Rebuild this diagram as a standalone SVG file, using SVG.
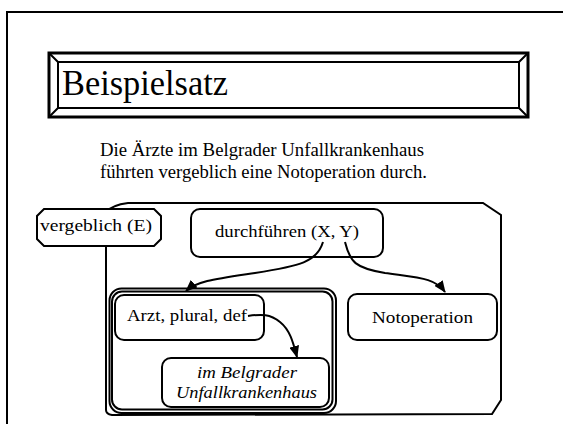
<svg xmlns="http://www.w3.org/2000/svg" width="563" height="424" viewBox="0 0 563 424">
<style>
  text { font-family: "Liberation Serif", "Times New Roman", serif; fill: #000; }
  .box { fill: #fff; stroke: #000; stroke-width: 2; }
  .ln { fill: none; stroke: #000; stroke-width: 2; }
  .arr { fill: none; stroke: #000; stroke-width: 2; marker-end: url(#ah); }
  .lbl { font-size: 17.5px; }
</style>
<defs>
  <marker id="ah" markerUnits="userSpaceOnUse" markerWidth="12" markerHeight="10" refX="11" refY="5" orient="auto">
    <path d="M0,0 L12,5 L0,10 Z" fill="#000"/>
  </marker>
</defs>
<rect width="563" height="424" fill="#fff"/>
<!-- slide frame -->
<path class="ln" d="M7,424 L7,12 L563,12"/>
<!-- title -->
<g id="title">
  <rect x="49" y="53" width="479" height="64" fill="none" stroke="#000" stroke-width="3"/>
  <rect x="58" y="62" width="461" height="46" fill="none" stroke="#000" stroke-width="2"/>
  <path class="ln" d="M49,53 L58,62 M528,53 L519,62 M49,117 L58,108 M528,117 L519,108"/>
  <text x="62" y="95" font-size="35" textLength="166" lengthAdjust="spacingAndGlyphs">Beispielsatz</text>
</g>
<g id="sentence">
  <text x="100" y="156" font-size="18" textLength="324" lengthAdjust="spacingAndGlyphs">Die Ärzte im Belgrader Unfallkrankenhaus</text>
  <text x="100" y="178" font-size="18" textLength="327" lengthAdjust="spacingAndGlyphs">führten vergeblich eine Notoperation durch.</text>
</g>
<!-- container -->
<g id="container">
  <path class="ln" d="M106,410 L106,212 Q112,205 128,203 L483,203 L501,215 L501,400 L492,414 L112,415 Q106,414 106,410 Z"/>
</g>
<g id="group">
  <rect x="109.5" y="288.5" width="226.5" height="124.5" rx="12" class="box"/>
  <rect x="112" y="291.5" width="220.5" height="118" rx="10" class="ln"/>
</g>
<g id="vergeblich">
  <path class="box" d="M44,209 L154,209 L161,216 L161,239 L154,246 L44,246 L37,239 L37,216 Z"/>
  <text class="lbl" x="40" y="231" textLength="112" lengthAdjust="spacingAndGlyphs">vergeblich (E)</text>
</g>
<g id="durchfuehren">
  <rect x="191" y="209" width="192" height="48" rx="9" class="box"/>
  <text class="lbl" x="215" y="237" textLength="144" lengthAdjust="spacingAndGlyphs">durchführen (X, Y)</text>
</g>
<g id="arzt">
  <rect x="115" y="295" width="149" height="45" rx="9" class="box"/>
  <text class="lbl" x="127" y="321" textLength="120" lengthAdjust="spacingAndGlyphs">Arzt, plural, def</text>
</g>
<g id="belgrader">
  <rect x="162" y="358" width="167" height="49" rx="9" class="box"/>
  <text class="lbl" x="197" y="378" font-style="italic" textLength="100" lengthAdjust="spacingAndGlyphs">im Belgrader</text>
  <text class="lbl" x="176" y="398" font-style="italic" textLength="141" lengthAdjust="spacingAndGlyphs">Unfallkrankenhaus</text>
</g>
<g id="notoperation">
  <rect x="348" y="294" width="149" height="46" rx="9" class="box"/>
  <text class="lbl" x="372" y="323" textLength="101" lengthAdjust="spacingAndGlyphs">Notoperation</text>
</g>
<g id="connectors">
  <path class="arr" d="M323,242 C317,262 300,266 255,273 C215,279 197,281 186,291"/>
  <path class="arr" d="M345,242 C350,262 355,268 385,273 C420,278 435,278 445,292"/>
  <path class="arr" d="M248,316 C262,314 270,314 280,322 C290,330 293,342 297,357"/>
</g>
</svg>
